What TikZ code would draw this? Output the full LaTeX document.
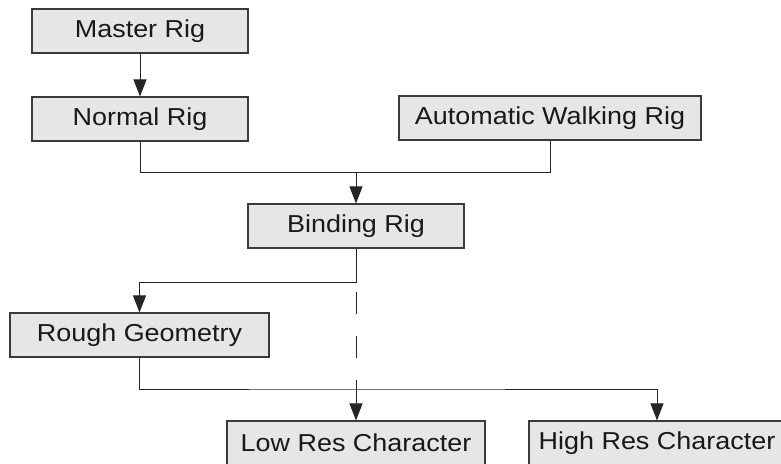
\documentclass[tikz,border=0pt]{standalone}
\usepackage{fontspec}
\setmainfont[FakeStretch=1.1]{Liberation Sans}
\usetikzlibrary{arrows.meta}
\definecolor{boxfill}{HTML}{E6E6E6}
\definecolor{boxline}{HTML}{3A3A3A}
\begin{document}
\begin{tikzpicture}[x=1pt,y=-1pt,
  box/.style={draw=boxline,fill=boxfill,line width=1.1pt,minimum height=44pt,inner sep=0pt,
    font=\fontsize{24.5}{29}\selectfont,text=black!90},
  conn/.style={line width=1pt,black!85},
  arr/.style={conn,-{Triangle[length=17pt,width=13pt]}}]
\clip (0,0) rectangle (781,463);
\node[box,minimum width=216pt] (master) at (140,31) {Master Rig};
\node[box,minimum width=216pt] (normal) at (140,119) {Normal Rig};
\node[box,minimum width=302pt] (auto) at (550,118) {Automatic Walking Rig};
\node[box,minimum width=216pt] (binding) at (356,226) {Binding Rig};
\node[box,minimum width=259pt] (rough) at (139.5,335) {Rough Geometry};
\node[box,minimum width=258pt] (low) at (356,443) {Low Res Character};
\node[box,minimum width=256pt] (high) at (657,443) {High Res Character};
\coordinate (j1) at (356,172);
\coordinate (j2) at (356,282);
\coordinate (j3) at (356,389);
\draw[arr] (master) -- (normal);
\draw[conn] (normal.south) |- (j1);
\draw[conn] (auto.south) |- (j1);
\draw[arr] (j1) -- (binding.north);
\draw[arr] (binding.south) -- (j2) -| (rough.north);
\draw[conn,dash pattern=on 22pt off 22pt,dash phase=34pt] (j2) -- (j3);
\draw[arr] (rough.south) |- (j3) -| (high.north);
\draw[arr] (j3) -- (low.north);
\end{tikzpicture}
\end{document}
